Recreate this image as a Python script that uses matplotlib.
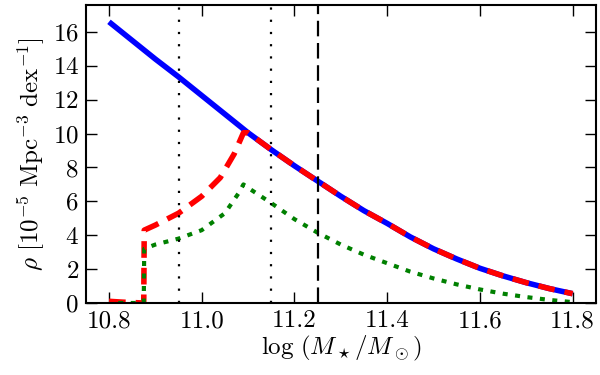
import matplotlib
import numpy as np

matplotlib.use("Agg")
import matplotlib.pyplot as plt

plt.rcParams['font.family'] = 'serif'
plt.rcParams['font.serif'] = ['cmr10']
plt.rcParams['mathtext.fontset'] = 'cm'
plt.rcParams['axes.formatter.use_mathtext'] = True

# total mass function (blue)
x_tot = [10.80, 10.85, 10.90, 10.95, 11.00, 11.05, 11.10, 11.15, 11.20, 11.25,
         11.30, 11.35, 11.40, 11.45, 11.50, 11.55, 11.60, 11.65, 11.70, 11.75, 11.80]
y_tot = [16.6, 15.5, 14.4, 13.35, 12.25, 11.15, 10.05, 9.05, 8.1, 7.2,
         6.3, 5.45, 4.7, 3.9, 3.2, 2.6, 2.05, 1.6, 1.2, 0.85, 0.55]

# red dashed: low below 10.875, then rises and joins the total
x_red = [10.80, 10.83, 10.875, 10.876, 10.90, 10.95, 11.00, 11.04, 11.07, 11.09,
         11.10, 11.15, 11.20, 11.25, 11.30, 11.35, 11.40, 11.45, 11.50, 11.55,
         11.60, 11.65, 11.70, 11.75, 11.80]
y_red = [0.1, 0.05, 0.0, 4.3, 4.6, 5.3, 6.3, 7.4, 8.8, 10.05,
         10.05, 9.05, 8.1, 7.2, 6.3, 5.45, 4.7, 3.9, 3.2, 2.6,
         2.05, 1.6, 1.2, 0.85, 0.55]

# green dotted
x_grn = [10.82, 10.875, 10.876, 10.90, 10.95, 11.00, 11.05, 11.08, 11.09, 11.10,
         11.15, 11.20, 11.25, 11.30, 11.35, 11.40, 11.45, 11.50, 11.55, 11.60,
         11.65, 11.70, 11.75, 11.80]
y_grn = [0.0, 0.0, 3.2, 3.45, 3.8, 4.3, 5.3, 6.5, 7.0, 6.8,
         5.9, 4.95, 4.15, 3.45, 2.85, 2.35, 1.85, 1.45, 1.1, 0.8,
         0.55, 0.35, 0.18, 0.05]

vlines_dotted = [10.95, 11.15]
vline_dashed = 11.25

xticks = [10.8, 11.0, 11.2, 11.4, 11.6, 11.8]
yticks = [0, 2, 4, 6, 8, 10, 12, 14, 16]

fig = plt.figure(figsize=(6, 3.75), dpi=100)
ax = fig.add_axes([0.143, 0.192, 0.85, 0.795])

ax.plot(x_tot, y_tot, color='blue', lw=4, solid_capstyle='butt')
ax.plot(x_red, y_red, color='red', lw=4, ls='--', dashes=(3.0, 1.8))
ax.plot(x_grn, y_grn, color='green', lw=3, ls=':', dashes=(1.2, 1.8))

for xv in vlines_dotted:
    ax.axvline(xv, color='black', lw=1.6, ls=':', dashes=(1, 4.5))
ax.axvline(vline_dashed, color='black', lw=1.6, ls='--', dashes=(7, 3))

ax.set_xlim(10.75, 11.85)
ax.set_ylim(0, 17.6)
ax.set_xticks(xticks)
ax.set_xticklabels(['%.1f' % t for t in xticks])
ax.set_yticks(yticks)
ax.tick_params(direction='in', top=True, right=True, length=8, width=1,
               labelsize=18, pad=5)
for s in ax.spines.values():
    s.set_linewidth(1.5)

ax.set_xlabel(r'$\log\,(M_\star/M_\odot)$', fontsize=18, labelpad=1)
ax.set_ylabel(r'$\rho\ [10^{-5}\ {\rm Mpc}^{-3}\ {\rm dex}^{-1}]$', fontsize=18, labelpad=4)

plt.savefig('out.png', dpi=100)
plt.close()
